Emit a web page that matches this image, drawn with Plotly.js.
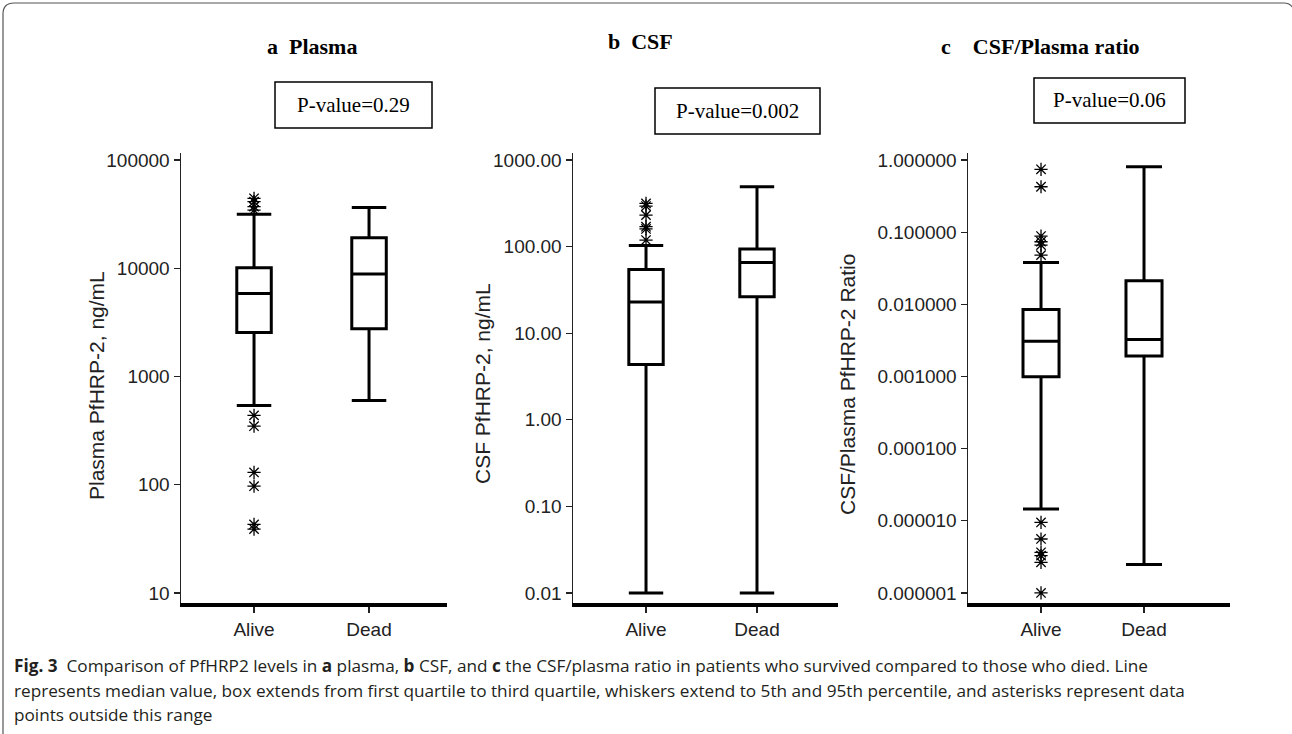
<!DOCTYPE html>
<html>
<head>
<meta charset="utf-8">
<script src="https://cdn.plot.ly/plotly-3.0.1.min.js"></script>
<style>html,body{margin:0;padding:0;background:#fff;}#chart{width:1292px;height:734px;}</style>
</head>
<body>
<div id="chart"></div>
<script>
// ---------- data ----------
const groups = ["Alive", "Dead"];

// a  Plasma PfHRP-2 (ng/mL)
const plasmaLowerFence = [540, 600];
const plasmaQ1 = [2550, 2760];
const plasmaMedian = [5850, 8840];
const plasmaQ3 = [10100, 19100];
const plasmaUpperFence = [31500, 36500];
const plasmaAliveOutliers = [44300, 41200, 37100, 34500, 438, 348, 130, 97, 43, 39];

// b  CSF PfHRP-2 (ng/mL)
const csfLowerFence = [0.01, 0.01];
const csfQ1 = [4.35, 26.4];
const csfMedian = [23, 65.6];
const csfQ3 = [54.5, 93.7];
const csfUpperFence = [103, 492];
const csfAliveOutliers = [315, 294, 231, 170, 160, 119];

// c  CSF/Plasma PfHRP-2 ratio
const ratioLowerFence = [0.0000146, 0.00000249];
const ratioQ1 = [0.000989, 0.00193];
const ratioMedian = [0.00309, 0.00326];
const ratioQ3 = [0.00849, 0.0212];
const ratioUpperFence = [0.0381, 0.809];
const ratioAliveOutliers = [0.743, 0.426, 0.0883, 0.0737, 0.0662, 0.0481, 0.0000095, 0.0000056, 0.00000366, 0.00000329, 0.00000266, 0.000001];

const plasmaTicks = [10, 100, 1000, 10000, 100000];
const plasmaTickText = ["10", "100", "1000", "10000", "100000"];
const csfTicks = [0.01, 0.1, 1, 10, 100, 1000];
const csfTickText = ["0.01", "0.10", "1.00", "10.00", "100.00", "1000.00"];
const ratioTicks = [0.000001, 0.00001, 0.0001, 0.001, 0.01, 0.1, 1];
const ratioTickText = ["0.000001", "0.000010", "0.000100", "0.001000", "0.010000", "0.100000", "1.000000"];

const panelTitles = ["a\u00a0\u00a0Plasma", "b\u00a0\u00a0CSF", "c\u00a0\u00a0\u00a0\u00a0CSF/Plasma ratio"];
const pValues = ["P-value=0.29", "P-value=0.002", "P-value=0.06"];
const yTitles = ["Plasma PfHRP-2, ng/mL", "CSF PfHRP-2, ng/mL", "CSF/Plasma PfHRP-2 Ratio"];
const captionLines = [
  "<b>Fig. 3</b>\u00a0\u00a0Comparison of PfHRP2 levels in <b>a</b> plasma, <b>b</b> CSF, and <b>c</b> the CSF/plasma ratio in patients who survived compared to those who died. Line",
  "represents median value, box extends from first quartile to third quartile, whiskers extend to 5th and 95th percentile, and asterisks represent data",
  "points outside this range"
];

// ---------- layout helpers ----------
const W = 1292, H = 734;
const px = x => x / W;
const py = y => 1 - y / H;

function boxTrace(ax, lf, q1, med, q3, uf, w) {
  return {
    type: "box", x: groups, lowerfence: lf, q1: q1, median: med, q3: q3, upperfence: uf,
    xaxis: "x" + ax, yaxis: "y" + ax, boxpoints: false, width: w, whiskerwidth: 1,
    fillcolor: "white", line: {color: "black", width: 3}, showlegend: false, hoverinfo: "skip"
  };
}
function outTrace(ax, vals) {
  return {
    type: "scatter", mode: "markers", x: vals.map(() => groups[0]), y: vals,
    xaxis: "x" + ax, yaxis: "y" + ax, showlegend: false, hoverinfo: "skip",
    marker: {symbol: "asterisk-open", size: 11, color: "black", line: {color: "black", width: 1.3}}
  };
}

const data = [
  boxTrace("", plasmaLowerFence, plasmaQ1, plasmaMedian, plasmaQ3, plasmaUpperFence, 0.3),
  outTrace("", plasmaAliveOutliers),
  boxTrace("2", csfLowerFence, csfQ1, csfMedian, csfQ3, csfUpperFence, 0.31),
  outTrace("2", csfAliveOutliers),
  boxTrace("3", ratioLowerFence, ratioQ1, ratioMedian, ratioQ3, ratioUpperFence, 0.35),
  outTrace("3", ratioAliveOutliers)
];

const yDom = [py(603), py(153)];
function xAx(l, r, range) {
  return {
    domain: [px(l), px(r)], type: "category", categoryorder: "array", categoryarray: groups,
    range: range, showline: true, linewidth: 4, linecolor: "black", ticks: "outside",
    ticklen: 6, tickwidth: 1.5, tickcolor: "#222", showgrid: false, zeroline: false,
    tickfont: {family: "Liberation Sans, Arial, sans-serif", size: 19, color: "#222"}, fixedrange: true
  };
}
function yAx(anchor, range, tv, tt) {
  return {
    domain: yDom, anchor: anchor, type: "log", range: range, tickvals: tv, ticktext: tt,
    showline: true, linewidth: 1.5, linecolor: "#222", ticks: "outside", ticklen: 6,
    tickwidth: 1.3, tickcolor: "#222", showgrid: false, zeroline: false,
    tickfont: {family: "Liberation Sans, Arial, sans-serif", size: 19, color: "#222"}, fixedrange: true
  };
}

const serif = "Liberation Serif, Times New Roman, serif";
const sans = "Liberation Sans, Arial, sans-serif";
const annotations = [];
const titlePos = [[312, 46], [640, 42], [1040, 46]];
panelTitles.forEach((t, i) => annotations.push({
  xref: "paper", yref: "paper", x: px(titlePos[i][0]), y: py(titlePos[i][1]),
  text: "<b>" + t + "</b>", showarrow: false, xanchor: "center", yanchor: "middle",
  font: {family: serif, size: 22, color: "black"}
}));
const pBoxes = [[275, 82, 432, 128], [655, 88, 820, 134], [1034, 78, 1185, 123]];
pValues.forEach((t, i) => annotations.push({
  xref: "paper", yref: "paper", x: px((pBoxes[i][0] + pBoxes[i][2]) / 2), y: py((pBoxes[i][1] + pBoxes[i][3]) / 2),
  text: t, showarrow: false, xanchor: "center", yanchor: "middle",
  font: {family: serif, size: 21, color: "black"}
}));
const yTitlePos = [[96, 386], [483, 384], [847, 385]];
yTitles.forEach((t, i) => annotations.push({
  xref: "paper", yref: "paper", x: px(yTitlePos[i][0]), y: py(yTitlePos[i][1]),
  text: t, textangle: -90, showarrow: false, xanchor: "center", yanchor: "middle",
  font: {family: sans, size: 21, color: "#222"}
}));
const capY = [665, 690, 714];
captionLines.forEach((t, i) => annotations.push({
  xref: "paper", yref: "paper", x: px(12), y: py(capY[i]),
  text: t, showarrow: false, xanchor: "left", yanchor: "middle", align: "left",
  font: {family: "Open Sans, Noto Sans, sans-serif", size: 17.2, color: "#231f20"}
}));

const shapes = pBoxes.map(b => ({
  type: "rect", xref: "paper", yref: "paper", x0: px(b[0]), x1: px(b[2]), y0: py(b[3]), y1: py(b[1]),
  line: {color: "black", width: 1.5}, fillcolor: "rgba(0,0,0,0)"
}));
shapes.push({
  type: "path", xref: "paper", yref: "paper",
  path: `M ${px(3)} ${py(740)} L ${px(3)} ${py(14)} Q ${px(3)} ${py(3)} ${px(14)} ${py(3)} L ${px(1284)} ${py(3)} Q ${px(1290)} ${py(3)} ${px(1293)} ${py(8)}`,
  line: {color: "#555", width: 1.2}
});

const layout = {
  width: W, height: H, margin: {l: 0, r: 0, t: 0, b: 0},
  paper_bgcolor: "white", plot_bgcolor: "white", showlegend: false,
  font: {family: sans, color: "#222"},
  xaxis: xAx(181, 447, [-0.635, 1.678]),
  yaxis: yAx("x", [0.908, 5.065], plasmaTicks, plasmaTickText),
  xaxis2: xAx(573, 838, [-0.658, 1.73]),
  yaxis2: yAx("x2", [-2.115, 3.081], csfTicks, csfTickText),
  xaxis3: xAx(968, 1230, [-0.709, 1.835]),
  yaxis3: yAx("x3", [-6.139, 0.097], ratioTicks, ratioTickText),
  annotations: annotations, shapes: shapes
};
layout.xaxis.anchor = "y"; layout.xaxis2.anchor = "y2"; layout.xaxis3.anchor = "y3";

Plotly.newPlot("chart", data, layout, {displayModeBar: false, staticPlot: true});
</script>
</body>
</html>
